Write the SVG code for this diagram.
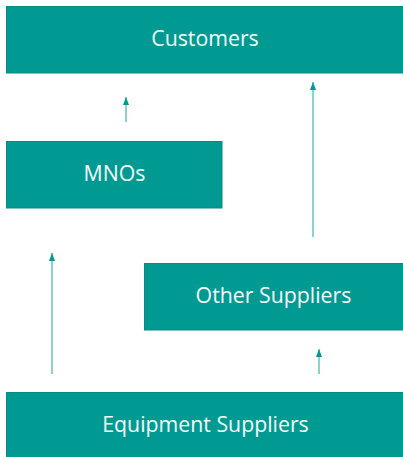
<svg xmlns="http://www.w3.org/2000/svg" width="403" height="457" viewBox="0 0 403 457">
<style>
.box{fill:#009a92;stroke:#0b8a82;stroke-width:1}
.lbl{font-family:"Open Sans","Liberation Sans",sans-serif;font-size:21.3px;fill:#f6fcfb;text-anchor:middle}
.conn{stroke:#4fb8b0;stroke-width:1.3;fill:none}
</style>
<defs>
<marker id="ah" viewBox="0 0 10 10" refX="10" refY="5" markerWidth="8" markerHeight="6" preserveAspectRatio="none" markerUnits="userSpaceOnUse" orient="auto">
<path d="M0,0 L10,5 L0,10 Z" fill="#009a92"/>
</marker>
</defs>
<rect width="403" height="457" fill="#ffffff"/>
<g id="customers">
<rect class="box" x="6.5" y="6.5" width="400" height="66.5"/>
<text class="lbl" x="205" y="46">Customers</text>
</g>
<g id="mnos">
<rect class="box" x="6.5" y="141.5" width="215.5" height="66.5"/>
<text class="lbl" x="114.5" y="180.5">MNOs</text>
</g>
<g id="other-suppliers">
<rect class="box" x="144.5" y="263.5" width="262" height="66.5"/>
<text class="lbl" x="273.5" y="302.5">Other Suppliers</text>
</g>
<g id="equipment-suppliers">
<rect class="box" x="6.5" y="392.5" width="400" height="70"/>
<text class="lbl" x="205.5" y="431.5">Equipment Suppliers</text>
</g>
<g id="connectors">
<line class="conn" x1="126" y1="122" x2="126" y2="97" marker-end="url(#ah)"/>
<line class="conn" x1="313" y1="237" x2="313" y2="82" marker-end="url(#ah)"/>
<line class="conn" x1="52" y1="374" x2="52" y2="253" marker-end="url(#ah)"/>
<line class="conn" x1="319" y1="374" x2="319" y2="349" marker-end="url(#ah)"/>
</g>
</svg>
